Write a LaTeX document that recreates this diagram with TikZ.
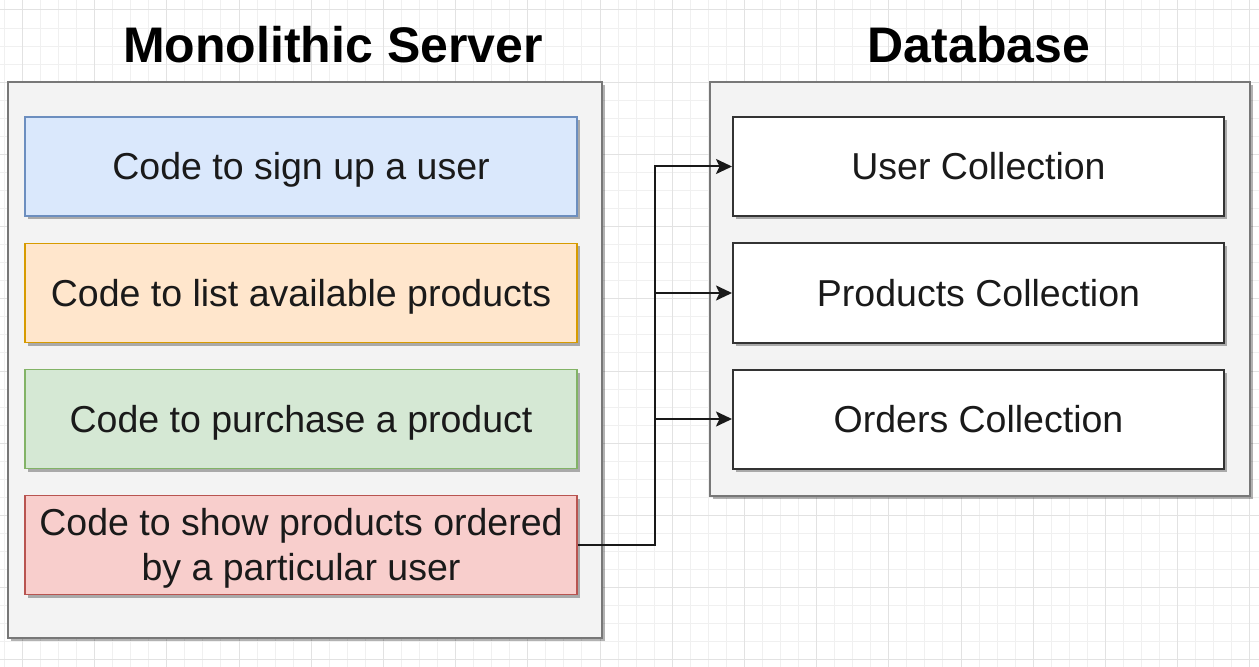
\documentclass[tikz,border=0pt]{standalone}
\usepackage{fontspec}
\setmainfont{Liberation Sans}
\usetikzlibrary{arrows.meta,shadows}
\definecolor{gridminor}{HTML}{F0F0F0}
\definecolor{gridmajor}{HTML}{E2E2E2}
\definecolor{contfill}{HTML}{F3F3F3}
\definecolor{contstroke}{HTML}{777777}
\definecolor{bluefill}{HTML}{DAE8FC}
\definecolor{bluestroke}{HTML}{6C8EBF}
\definecolor{orangefill}{HTML}{FFE6CC}
\definecolor{orangestroke}{HTML}{D79B00}
\definecolor{greenfill}{HTML}{D5E8D4}
\definecolor{greenstroke}{HTML}{82B366}
\definecolor{redfill}{HTML}{F8CECC}
\definecolor{redstroke}{HTML}{B85450}
\definecolor{collstroke}{HTML}{333333}
\definecolor{textc}{HTML}{1A1A1A}
\newcommand\mybodyfont{\fontsize{37.5bp}{45bp}\selectfont}
\newcommand\mytitlefont{\fontsize{50bp}{60bp}\selectfont\bfseries}
\begin{document}
\begin{tikzpicture}[x=1bp,y=-1bp,
  gminor/.style={draw=gridminor,line width=1bp},
  gmajor/.style={draw=gridmajor,line width=1bp},
  shadowed/.style={drop shadow={shadow xshift=3bp,shadow yshift=-3bp,fill=black,opacity=0.3}},
  container/.style={shadowed,draw=contstroke,fill=contfill,line width=1.8bp,inner sep=0pt},
  codebox/.style={shadowed,line width=1.5bp,minimum width=552bp,minimum height=99bp,inner sep=0pt,
    font=\mybodyfont,text=textc,text height=28bp,text depth=1bp},
  collbox/.style={shadowed,draw=collstroke,fill=white,line width=2bp,minimum width=491bp,minimum height=99bp,
    inner sep=0pt,font=\mybodyfont,text=textc,text height=28bp,text depth=1bp},
  titletext/.style={font=\mytitlefont,text=black,anchor=base},
  conn/.style={draw=black!90,line width=2bp,-{Stealth[length=16bp,width=15bp,inset=3.5bp]}}
]
\useasboundingbox (0,0) rectangle (1259,667);
\fill[white] (0,0) rectangle (1259,667);
% grid
\foreach \i in {0,...,70} { \draw[gminor] ({4.35+18.05*\i},0) -- ({4.35+18.05*\i},667); }
\foreach \i in {0,...,36} { \draw[gminor] (0,{10+18.05*\i}) -- (1259,{10+18.05*\i}); }
\foreach \i in {0,...,17} { \draw[gmajor] ({22.4+72.2*\i},0) -- ({22.4+72.2*\i},667); }
\foreach \i in {0,...,9} { \draw[gmajor] (0,{10+72.2*\i}) -- (1259,{10+72.2*\i}); }

% titles
\node[titletext] (montitle) at (333,63) {Monolithic Server};
\node[titletext] (dbtitle) at (979,63) {Database};

% containers
\node[container,minimum width=594bp,minimum height=556bp] (mono) at (305,360) {};
\node[container,minimum width=540bp,minimum height=414bp] (db) at (980,289) {};

% code boxes
\node[codebox,draw=bluestroke,fill=bluefill] (signup) at (301,166.5) {Code to sign up a user};
\node[codebox,draw=orangestroke,fill=orangefill] (list) at (301,293) {Code to list available products};
\node[codebox,draw=greenstroke,fill=greenfill] (purchase) at (301,419) {Code to purchase a product};
\node[codebox,draw=redstroke,fill=redfill,align=center,text height=72bp,text depth=2bp] (show) at (301,545)
  {Code to show products ordered\\by a particular user};

% collections
\node[collbox] (user) at (978.5,166.5) {User Collection};
\node[collbox] (prod) at (978.5,293) {Products Collection};
\node[collbox] (orders) at (978.5,419) {Orders Collection};

% connectors
\coordinate (trunk) at (655,545);
\draw[conn] (show.east) -- (trunk) |- (user.west);
\draw[conn] (trunk |- prod.west) -- (prod.west);
\draw[conn] (trunk |- orders.west) -- (orders.west);
\end{tikzpicture}
\end{document}
